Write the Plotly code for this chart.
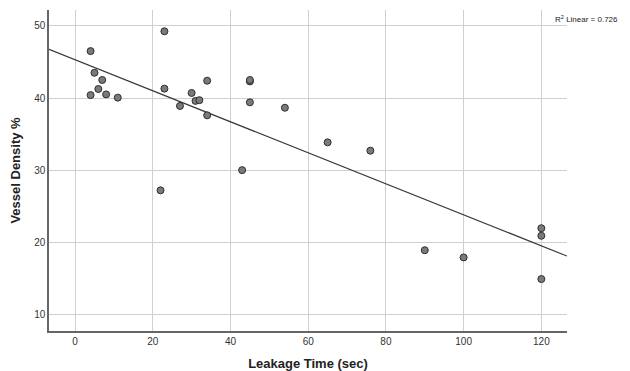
import numpy as np
import plotly.graph_objects as go

leakage_time = [4, 5, 7, 6, 4, 8, 11, 23, 23, 27, 30, 31, 32, 34, 34,
                45, 45, 45, 54, 43, 22, 65, 76, 90, 100, 120, 120, 120]
vessel_density = [46.5, 43.5, 42.5, 41.25, 40.4, 40.5, 40.05, 49.25, 41.3, 38.9, 40.7, 39.6, 39.7, 42.4, 37.6,
                  42.3, 42.5, 39.4, 38.65, 30.0, 27.2, 33.85, 32.7, 18.9, 17.9, 21.95, 20.9, 14.9]
x_ticks = [0, 20, 40, 60, 80, 100, 120]
y_ticks = [10, 20, 30, 40, 50]
r2_linear = "0.726"

x_range = [-6.7, 126.6]
y_range = [7.7, 52.2]

xa = np.array(leakage_time, dtype=float)
ya = np.array(vessel_density, dtype=float)
slope, intercept = np.polyfit(xa, ya, 1)

fit_x = np.array(x_range)
fit_y = slope * fit_x + intercept

fig = go.Figure()
fig.add_trace(go.Scatter(x=fit_x, y=fit_y, mode="lines",
                         line=dict(color="#3a3a3a", width=1.2), hoverinfo="skip", showlegend=False))
fig.add_trace(go.Scatter(x=leakage_time, y=vessel_density, mode="markers",
                         marker=dict(size=7, color="#7a7a7a", line=dict(color="#2e2e2e", width=1)),
                         showlegend=False))

fig.add_annotation(text="R<sup>2</sup> Linear = " + r2_linear, xref="paper", yref="paper",
                   x=1.102, y=0.995, xanchor="right", yanchor="top", showarrow=False,
                   font=dict(family="Liberation Sans, Arial", size=8, color="#222"))

fig.update_layout(
    width=622, height=363,
    margin=dict(l=41, r=63, t=2, b=40),
    paper_bgcolor="white", plot_bgcolor="white",
    font=dict(family="Liberation Sans, Arial", size=10, color="#333"),
    xaxis=dict(range=x_range, tickvals=x_ticks, showgrid=True, gridcolor="#cfcfcf", gridwidth=1,
               zeroline=False, showline=True, linecolor="#666", linewidth=1.5, ticks="",
               automargin=False,
               title=dict(text="<b>Leakage Time (sec)</b>", font=dict(size=13, color="#222"), standoff=14),
               tickfont=dict(size=10, color="#333")),
    yaxis=dict(range=y_range, tickvals=y_ticks, showgrid=True, gridcolor="#cfcfcf", gridwidth=1,
               zeroline=False, showline=True, linecolor="#666", linewidth=1.5, ticks="",
               automargin=False,
               title=dict(text="<b>Vessel Density %</b>", font=dict(size=13, color="#222"), standoff=12),
               tickfont=dict(size=10, color="#333")),
)

fig.write_html("out.html")
